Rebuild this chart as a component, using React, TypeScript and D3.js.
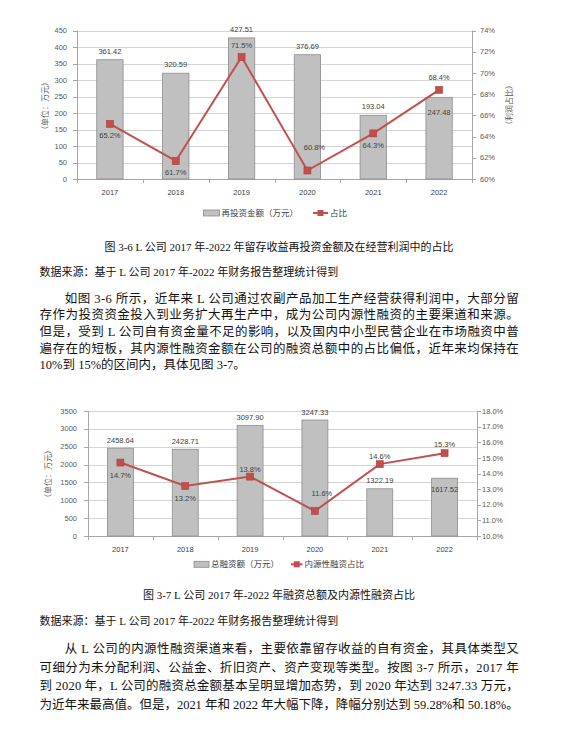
import React from 'react';
import * as d3 from 'd3';

// ---------- data ----------
const years = ['2017', '2018', '2019', '2020', '2021', '2022'];
const reinvestAmount = [361.42, 320.59, 427.51, 376.69, 193.04, 247.48];
const reinvestShare = [65.2, 61.7, 71.5, 60.8, 64.3, 68.4];
const totalFinancing = [2458.64, 2428.71, 3097.9, 3247.33, 1322.19, 1617.52];
const internalShare = [14.7, 13.2, 13.8, 11.6, 14.6, 15.3];
const leftTicks1 = [0, 50, 100, 150, 200, 250, 300, 350, 400, 450];
const rightTicks1 = [60, 62, 64, 66, 68, 70, 72, 74];
const leftTicks2 = [0, 500, 1000, 1500, 2000, 2500, 3000, 3500];
const rightTicks2 = [10, 11, 12, 13, 14, 15, 16, 17, 18];

const caption1 = '图 3-6 L 公司 2017 年-2022 年留存收益再投资金额及在经营利润中的占比';
const caption2 = '图 3-7 L 公司 2017 年-2022 年融资总额及内源性融资占比';
const sourceText = '数据来源：基于 L 公司 2017 年-2022 年财务报告整理统计得到';
const para1 = [
  '如图 3-6 所示，近年来 L 公司通过农副产品加工生产经营获得利润中，大部分留',
  '存作为投资资金投入到业务扩大再生产中，成为公司内源性融资的主要渠道和来源。',
  '但是，受到 L 公司自有资金量不足的影响，以及国内中小型民营企业在市场融资中普',
  '遍存在的短板，其内源性融资金额在公司的融资总额中的占比偏低，近年来均保持在',
  '10%到 15%的区间内，具体见图 3-7。',
];
const para2 = [
  '从 L 公司的内源性融资渠道来看，主要依靠留存收益的自有资金，其具体类型又',
  '可细分为未分配利润、公益金、折旧资产、资产变现等类型。按图 3-7 所示，2017 年',
  '到 2020 年，L 公司的融资总金额基本呈明显增加态势，到 2020 年达到 3247.33 万元，',
  '为近年来最高值。但是，2021 年和 2022 年大幅下降，降幅分别达到 59.28%和 50.18%。',
];

// ---------- styles ----------
const BAR_FILL = '#c0c0c0';
const BAR_STROKE = '#8c8c8c';
const LINE = '#c0504d';
const GRID = '#d4d4d4';
const AXIS = '#a6a6a6';
const CHART_FONT = '"Liberation Sans", "Noto Sans CJK SC", sans-serif';
const CJK_FONT = '"Noto Sans CJK SC", "Liberation Sans", sans-serif';
const BODY_FONT = '"Liberation Serif", "Noto Sans CJK SC", serif';

type Cfg = {
  left: number; right: number; top: number; bottom: number;
  values: number[]; shares: number[];
  leftTicks: number[]; rightTicks: number[];
  rightFmt: (v: number) => string;
  barLabelDy: number[]; lineLabelDy: number[]; lineLabelDx: number[];
  yearY: number; leftTitle: string; leftTitleX: number; leftTitleY: number;
  rightTitle?: string; rightTitleX?: number; rightTitleY?: number;
  rightLabelX: number; leftLabelX: number;
  legendY: number; legRectX: number; legRectW: number; legBarText: string;
  legLineX1: number; legLineX2: number; legLineText: string;
};

function ComboChart({ c }: { c: Cfg }) {
  const x = d3.scaleBand<string>().domain(years).range([c.left, c.right]);
  const yMax = c.leftTicks[c.leftTicks.length - 1];
  const y = d3.scaleLinear().domain([0, yMax]).range([c.bottom, c.top]);
  const r = d3.scaleLinear()
    .domain([c.rightTicks[0], c.rightTicks[c.rightTicks.length - 1]])
    .range([c.bottom, c.top]);
  const bw = x.bandwidth() * 0.4;
  const cx = (i: number) => (x(years[i]) as number) + x.bandwidth() / 2;
  const lineGen = d3.line<number>().x((_, i) => cx(i)).y((d) => r(d));
  const boundaries = d3.range(years.length + 1).map((i) => c.left + i * x.step());
  const snap = (v: number) => Math.round(v) + 0.5;

  return (
    <g>
      {c.leftTicks.map((t) => (
        <line key={'g' + t} x1={c.left} x2={c.right} y1={snap(y(t))} y2={snap(y(t))} stroke={GRID} strokeWidth={1} />
      ))}
      {/* axes */}
      <line x1={snap(c.left)} x2={snap(c.left)} y1={c.top} y2={c.bottom} stroke={AXIS} />
      <line x1={snap(c.right)} x2={snap(c.right)} y1={c.top} y2={c.bottom} stroke={AXIS} />
      <line x1={c.left} x2={c.right} y1={snap(y(0))} y2={snap(y(0))} stroke={AXIS} />
      {c.leftTicks.map((t) => (
        <line key={'lt' + t} x1={c.left - 4} x2={c.left} y1={snap(y(t))} y2={snap(y(t))} stroke={AXIS} />
      ))}
      {c.rightTicks.map((t) => (
        <line key={'rt' + t} x1={c.right} x2={c.right + 4} y1={snap(r(t))} y2={snap(r(t))} stroke={AXIS} />
      ))}
      {boundaries.map((b, i) => (
        <line key={'bt' + i} x1={snap(b)} x2={snap(b)} y1={c.bottom} y2={c.bottom + 4} stroke={AXIS} />
      ))}
      {/* bars */}
      {c.values.map((v, i) => (
        <rect key={'b' + i} x={cx(i) - bw / 2} y={y(v)} width={bw} height={y(0) - y(v)}
          fill={BAR_FILL} stroke={BAR_STROKE} strokeWidth={0.8} />
      ))}
      {/* line */}
      <path d={lineGen(c.shares) as string} fill="none" stroke={LINE} strokeWidth={2} />
      {c.shares.map((s, i) => (
        <rect key={'m' + i} x={cx(i) - 3.5} y={r(s) - 3.5} width={7} height={7} fill={LINE} stroke="#b0403d" strokeWidth={0.6} />
      ))}
      {/* tick labels */}
      <g fontFamily={CHART_FONT} fontSize={7.5} fill="#595959">
        {c.leftTicks.map((t) => (
          <text key={'ll' + t} x={c.leftLabelX} y={y(t)} dy="0.35em" textAnchor="end">{t}</text>
        ))}
        {c.rightTicks.map((t) => (
          <text key={'rl' + t} x={c.rightLabelX} y={r(t)} dy="0.35em" textAnchor="start">{c.rightFmt(t)}</text>
        ))}
        {years.map((yr, i) => (
          <text key={'yr' + yr} x={cx(i)} y={c.yearY} dy="0.35em" textAnchor="middle" fill="#404040">{yr}</text>
        ))}
      </g>
      {/* data labels */}
      <g fontFamily={CHART_FONT} fontSize={7.5} fill="#404040" textAnchor="middle">
        {c.values.map((v, i) => (
          <text key={'vl' + i} x={cx(i)} y={y(v) + c.barLabelDy[i]} dy="0.35em">{v.toFixed(2)}</text>
        ))}
        {c.shares.map((s, i) => (
          <text key={'sl' + i} x={cx(i) + c.lineLabelDx[i]} y={r(s) + c.lineLabelDy[i]} dy="0.35em">{s.toFixed(1) + '%'}</text>
        ))}
      </g>
      {/* axis titles */}
      <text fontFamily={CJK_FONT} fontSize={8} fill="#595959" textAnchor="middle"
        transform={`translate(${c.leftTitleX},${c.leftTitleY}) rotate(-90)`} dy="0.35em">{c.leftTitle}</text>
      {c.rightTitle ? (
        <text fontFamily={CJK_FONT} fontSize={8} fill="#595959" textAnchor="middle"
          transform={`translate(${c.rightTitleX},${c.rightTitleY}) rotate(-90)`} dy="0.35em">{c.rightTitle}</text>
      ) : null}
      {/* legend */}
      <rect x={c.legRectX} y={c.legendY - 3} width={c.legRectW} height={6} fill={BAR_FILL} stroke={BAR_STROKE} strokeWidth={0.8} />
      <text x={c.legRectX + c.legRectW + 2} y={c.legendY} dy="0.35em" fontFamily={CJK_FONT} fontSize={8.5} fill="#404040">{c.legBarText}</text>
      <line x1={c.legLineX1} x2={c.legLineX2} y1={c.legendY} y2={c.legendY} stroke={LINE} strokeWidth={2} />
      <rect x={(c.legLineX1 + c.legLineX2) / 2 - 3} y={c.legendY - 3} width={6} height={6} fill={LINE} />
      <text x={c.legLineX2 + 2} y={c.legendY} dy="0.35em" fontFamily={CJK_FONT} fontSize={8.5} fill="#404040">{c.legLineText}</text>
    </g>
  );
}

const chart1: Cfg = {
  left: 77, right: 472, top: 30.5, bottom: 179,
  values: reinvestAmount, shares: reinvestShare,
  leftTicks: leftTicks1, rightTicks: rightTicks1,
  rightFmt: (v) => v + '%',
  barLabelDy: [-8.5, -8.5, -8.5, -8.5, -8.5, 15],
  lineLabelDy: [11.5, 11.7, -12, -23.5, 11.6, -13],
  lineLabelDx: [0, 0, 0, 7, 0, 0],
  yearY: 192.5, leftTitle: '（单位：万元）', leftTitleX: 45, leftTitleY: 106,
  rightTitle: '（利润占比）', rightTitleX: 509, rightTitleY: 105,
  rightLabelX: 480, leftLabelX: 67,
  legendY: 213, legRectX: 203.5, legRectW: 16, legBarText: '再投资金额（万元）',
  legLineX1: 313, legLineX2: 328, legLineText: '占比',
};

const chart2: Cfg = {
  left: 88, right: 477, top: 411, bottom: 536,
  values: totalFinancing, shares: internalShare,
  leftTicks: leftTicks2, rightTicks: rightTicks2,
  rightFmt: (v) => v.toFixed(1) + '%',
  barLabelDy: [-8, -8, -8, -8, -8, 11],
  lineLabelDy: [12.5, 12.7, -7.5, -17.7, -8, -9],
  lineLabelDx: [0, 0, 0, 7, 0, 0],
  yearY: 549.5, leftTitle: '（单位：万元）', leftTitleX: 48, leftTitleY: 474,
  rightLabelX: 482, leftLabelX: 77,
  legendY: 564.3, legRectX: 194, legRectW: 15, legBarText: '总融资额（万元）',
  legLineX1: 291, legLineX2: 302.5, legLineText: '内源性融资占比',
};

const TEXT_LEFT = 39.6;
const TEXT_RIGHT = 518.7;
const INDENT = 64.8;

function Paragraph({ lines, ys, justifyAll }: { lines: string[]; ys: number[]; justifyAll: boolean }) {
  return (
    <g fontFamily={BODY_FONT} fontSize={12.5} fill="#111">
      {lines.map((ln, i) => {
        const x0 = i === 0 ? INDENT : TEXT_LEFT;
        const justify = justifyAll || i < lines.length - 1;
        return justify ? (
          <text key={i} x={x0} y={ys[i]} dy="0.36em" textLength={TEXT_RIGHT - x0} lengthAdjust="spacing">{ln}</text>
        ) : (
          <text key={i} x={x0} y={ys[i]} dy="0.36em">{ln}</text>
        );
      })}
    </g>
  );
}

export default function App() {
  return (
    <svg width={562} height={730} style={{ position: 'absolute', left: 0, top: 0, background: '#fff' }}>
      <rect x={0} y={0} width={562} height={730} fill="#fff" />
      <ComboChart c={chart1} />
      <text x={279} y={247} dy="0.36em" textAnchor="middle" fontFamily={BODY_FONT} fontSize={11} fill="#111">{caption1}</text>
      <text x={TEXT_LEFT} y={271.7} dy="0.36em" fontFamily={BODY_FONT} fontSize={11} fill="#111">{sourceText}</text>
      <Paragraph lines={para1} ys={[298, 314.7, 331.3, 348, 364.5]} justifyAll={false} />
      <ComboChart c={chart2} />
      <text x={279} y={595} dy="0.36em" textAnchor="middle" fontFamily={BODY_FONT} fontSize={11} fill="#111">{caption2}</text>
      <text x={TEXT_LEFT} y={620.7} dy="0.36em" fontFamily={BODY_FONT} fontSize={11} fill="#111">{sourceText}</text>
      <Paragraph lines={para2} ys={[648.3, 667, 685.5, 704]} justifyAll={true} />
    </svg>
  );
}
